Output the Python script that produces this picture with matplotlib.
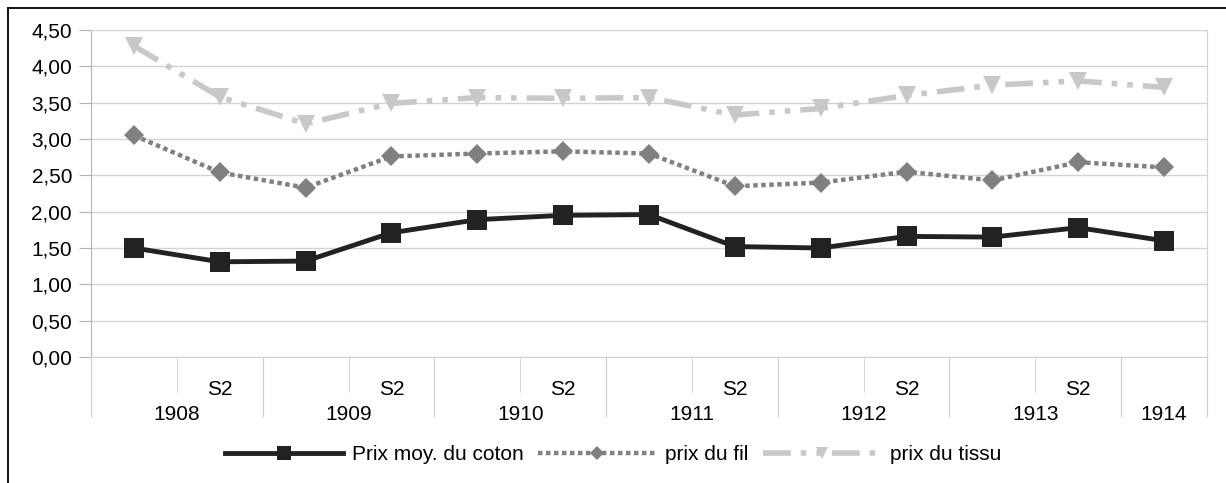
import matplotlib.pyplot as plt
from matplotlib.lines import Line2D
from matplotlib.ticker import FuncFormatter

plt.rcParams['font.family'] = ['Liberation Sans', 'DejaVu Sans']

# semesters 1908 S1 .. 1914 S1
years = ["1908", "1909", "1910", "1911", "1912", "1913", "1914"]
semesters = ["", "S2"] * 6 + [""]

prix_coton = [1.50, 1.31, 1.32, 1.71, 1.89, 1.95, 1.96, 1.52, 1.50, 1.66, 1.65, 1.78, 1.60]
prix_fil = [3.05, 2.54, 2.33, 2.76, 2.80, 2.83, 2.80, 2.35, 2.40, 2.55, 2.43, 2.68, 2.61]
prix_tissu = [4.28, 3.58, 3.21, 3.49, 3.57, 3.56, 3.57, 3.33, 3.42, 3.60, 3.74, 3.80, 3.71]

x = list(range(len(semesters)))
FS = 15

fig = plt.figure(figsize=(12.26, 4.83), dpi=100)
ax = fig.add_axes([91 / 1226, 1 - 357 / 483, (1207 - 91) / 1226, (357 - 30) / 483])

ax.plot(x, prix_coton, color="#222222", lw=3.5, marker="s", ms=14, mew=0,
        label="Prix moy. du coton", zorder=5)
ax.plot(x, prix_fil, color="#808080", lw=3.2, ls=(0, (1, 0.8)), marker="D", ms=10.5, mew=0,
        label="prix du fil", zorder=4)
ax.plot(x, prix_tissu, color="#c8c8c8", lw=4, ls=(0, (5, 1.8, 1, 1.8, 1, 1.8)), marker="v",
        ms=13, mew=0, label="prix du tissu", zorder=3)

ax.set_ylim(0, 4.5)
ax.set_xlim(-0.5, len(x) - 0.5)
ax.set_yticks([i * 0.5 for i in range(10)])
ax.yaxis.set_major_formatter(FuncFormatter(lambda v, p: f"{v:.2f}".replace(".", ",")))
ax.grid(axis="y", color="#d3d3d3", lw=1)
ax.set_axisbelow(True)

for s in ax.spines.values():
    s.set_color("#d3d3d3")
ax.spines["left"].set_color("#b3b3b3")

ax.tick_params(axis="y", length=8.6, color="#b3b3b3", labelsize=FS, pad=5)

# hierarchical category axis
year_bounds = [-0.5] + [1.5 + 2 * i for i in range(6)] + [len(x) - 0.5]
half_bounds = [0.5 + 2 * i for i in range(6)]
ax.set_xticks(year_bounds)
ax.set_xticks(half_bounds, minor=True)
ax.tick_params(axis="x", which="major", length=43, color="#cccccc", labelbottom=False)
ax.tick_params(axis="x", which="minor", length=25, color="#cccccc", labelbottom=False)

for i, lab in enumerate(semesters):
    if lab:
        ax.annotate(lab, xy=(i, 0), xycoords=("data", "axes fraction"), xytext=(0, -23.5),
                    textcoords="offset points", ha="center", va="center", fontsize=FS)
for k, yr in enumerate(years):
    c = (year_bounds[k] + year_bounds[k + 1]) / 2
    ax.annotate(yr, xy=(c, 0), xycoords=("data", "axes fraction"), xytext=(0, -41.5),
                textcoords="offset points", ha="center", va="center", fontsize=FS)

fig.legend(loc="center", bbox_to_anchor=(0.5, 1 - 455 / 483), ncol=3, frameon=False,
           fontsize=FS, handlelength=5.7, handletextpad=0.4, columnspacing=0.7,
           markerscale=0.7)

# outer frame
fig.add_artist(Line2D([7.5 / 1226, 7.5 / 1226], [0, 1 - 8 / 483], color="black", lw=1.3))
fig.add_artist(Line2D([7.5 / 1226, 1], [1 - 8 / 483, 1 - 8 / 483], color="black", lw=1.3))

fig.savefig("out.png", dpi=100)
